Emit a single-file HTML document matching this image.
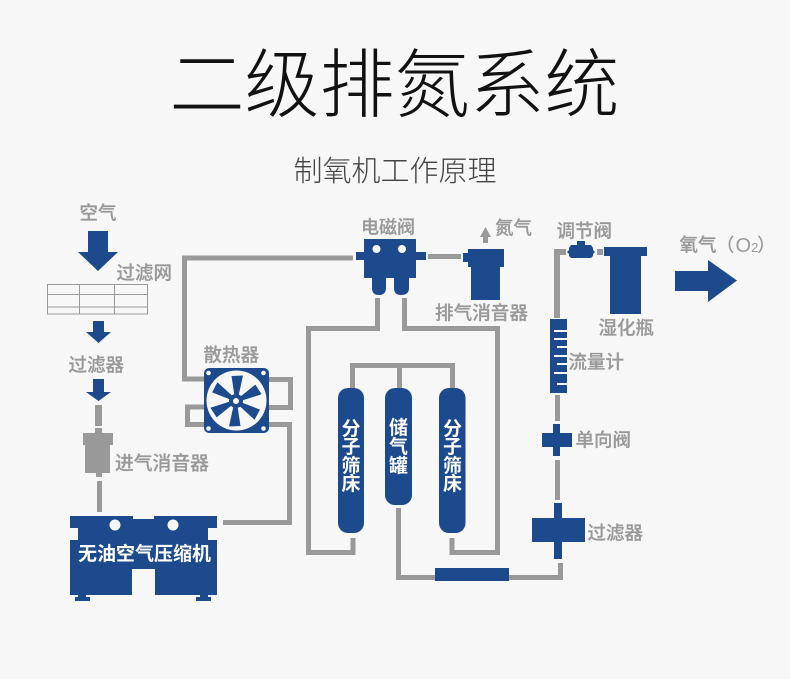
<!DOCTYPE html>
<html><head><meta charset="utf-8">
<style>
html,body{margin:0;padding:0;background:#f7f7f8}
svg{display:block}
text{font-family:"Liberation Sans","Noto Sans CJK SC",sans-serif}
.l{fill:#999;font-size:18.500px;font-weight:500;stroke:#999;stroke-width:.25}
.w{fill:#fff;font-size:19px;font-weight:bold}
.p{fill:none;stroke:#999;stroke-width:5}
.b{fill:#1c4a8c}
</style></head><body>
<svg width="790" height="679" viewBox="0 0 790 679" xmlns="http://www.w3.org/2000/svg">
<rect width="790" height="679" fill="#f7f7f8"/>
<text x="394.500" y="111" text-anchor="middle" font-size="75" font-weight="300" fill="#111">二级排氮系统</text>
<text x="395" y="181" text-anchor="middle" font-size="29" font-weight="300" fill="#444">制氧机工作原理</text>

<!-- pipes -->
<g class="p">
<polyline points="353,258 184.500,258 184.500,379 206,379"/>
<polyline points="268,379.500 290.500,379.500 290.500,407.500 268,407.500"/>
<polyline points="206,407 187.500,407 187.500,424.500 206,424.500"/>
<polyline points="268,424.500 289.500,424.500 289.500,522.500 223,522.500"/>
<polyline points="377.500,298 377.500,328.500 308.500,328.500 308.500,552.500 353,552.500 353,538"/>
<polyline points="404.500,298 404.500,328.500 497.500,328.500 497.500,552.500 452,552.500 452,538"/>
<polyline points="352.500,390 352.500,365.500 452.500,365.500 452.500,390"/>
<line x1="399.500" y1="365" x2="399.500" y2="390"/>
<polyline points="398.500,508 398.500,577.500 560.500,577.500 560.500,563"/>
<line x1="428" y1="256.500" x2="461" y2="256.500"/>
<line x1="557.500" y1="395" x2="557.500" y2="421"/>
<line x1="557.500" y1="460" x2="557.500" y2="500"/>
</g>
<path d="M554,249H566V255H560V318H554Z" fill="#999"/>
<rect x="597" y="249" width="6" height="6" fill="#999"/>

<!-- left arrows -->
<polygon class="b" points="88,231 108,231 108,252 118,252 98,271 78,252 88,252"/>
<polygon class="b" points="93,321 104,321 104,332 111,332 98.500,343 86,332 93,332"/>
<polygon class="b" points="93,379 104,379 104,392 111,392 98.500,401 86,392 93,392"/>

<!-- filter net -->
<g fill="none" stroke="#999" stroke-width="1">
<rect x="47.500" y="284.500" width="100" height="29.500"/>
<line x1="47" y1="294.500" x2="148" y2="294.500"/>
<line x1="47" y1="307" x2="148" y2="307"/>
<line x1="79.500" y1="284" x2="79.500" y2="314"/>
<line x1="114.500" y1="284" x2="114.500" y2="314"/>
</g>

<!-- inlet muffler -->
<g fill="#999">
<rect x="95" y="405" width="7" height="21"/>
<rect x="95" y="428" width="7" height="6"/>
<rect x="83" y="433" width="30" height="12"/>
<rect x="85" y="445" width="25" height="28"/>
<rect x="96" y="473" width="6" height="4"/>
<rect x="97" y="481" width="5" height="31"/>
</g>

<!-- compressor -->
<path class="b" d="M70,516H133V519H154V516H217V528H208V540H217V595H155V569H132V595H70V540H78V528H70Z"/>
<rect class="b" x="75" y="597" width="15" height="4"/><rect class="b" x="78" y="595" width="8" height="3"/>
<rect class="b" x="196" y="597" width="15" height="4"/><rect class="b" x="200" y="595" width="8" height="3"/>
<circle cx="115" cy="525" r="5.500" fill="#f7f7f8"/><circle cx="173" cy="525" r="5.500" fill="#f7f7f8"/>
<text class="w" x="78" y="560">无油空气压缩机</text>

<!-- fan -->
<rect class="b" x="204" y="368" width="65" height="65" rx="5"/>
<circle cx="236.500" cy="400.500" r="30" fill="#f7f7f8"/>
<g class="b" transform="translate(236,401)">
<path d="M-1.500,-5 L-4.500,-25 L7,-25.500 L2.500,-5Z"/>
<path transform="rotate(60)" d="M-1.500,-5 L-4.500,-25 L7,-25.500 L2.500,-5Z"/>
<path transform="rotate(120)" d="M-1.500,-5 L-4.500,-25 L7,-25.500 L2.500,-5Z"/>
<path transform="rotate(180)" d="M-1.500,-5 L-4.500,-25 L7,-25.500 L2.500,-5Z"/>
<path transform="rotate(240)" d="M-1.500,-5 L-4.500,-25 L7,-25.500 L2.500,-5Z"/>
<path transform="rotate(300)" d="M-1.500,-5 L-4.500,-25 L7,-25.500 L2.500,-5Z"/>
<circle r="7"/>
<circle r="3" fill="#f7f7f8"/>
</g>
<g fill="#f7f7f8"><circle cx="208.500" cy="373" r="2.300"/><circle cx="263.500" cy="373" r="2.300"/><circle cx="208.500" cy="428.500" r="2.300"/><circle cx="263.500" cy="428.500" r="2.300"/></g>

<!-- solenoid valve -->
<path class="b" d="M364,239H416V252H426V260H416V278H409V288Q409,295 401,295Q394,295 394,288V278H386V288Q386,295 379,295Q372,295 372,288V278H364V260H356V252H364Z"/>
<circle cx="376.500" cy="249" r="4" fill="#f7f7f8"/><circle cx="402" cy="249" r="4" fill="#f7f7f8"/>

<!-- exhaust muffler -->
<path class="b" d="M468,249H504V267H500V300H471V267H468V262H463V253H468Z"/>
<polygon fill="#999" points="485.500,227 491,237 488,237 488,243 483,243 483,237 480,237"/>

<!-- tanks -->
<rect class="b" x="338" y="388" width="26" height="145" rx="10"/>
<rect class="b" x="385" y="388" width="27" height="117" rx="10"/>
<rect class="b" x="439" y="388" width="26.500" height="145" rx="10"/>
<g class="w" text-anchor="middle">
<text x="351" y="435">分</text><text x="351" y="453">子</text><text x="351" y="472">筛</text><text x="351" y="490">床</text>
<text x="398.500" y="434">储</text><text x="398.500" y="453">气</text><text x="398.500" y="472">罐</text>
<text x="452.500" y="435">分</text><text x="452.500" y="453">子</text><text x="452.500" y="472">筛</text><text x="452.500" y="490">床</text>
</g>
<rect class="b" x="435" y="568" width="74" height="13"/>

<!-- right column -->
<rect class="b" x="553" y="424" width="7" height="32"/>
<rect class="b" x="542" y="433" width="30" height="14"/>
<rect class="b" x="554" y="503" width="8" height="56"/>
<rect class="b" x="532" y="518" width="53" height="24"/>
<rect class="b" x="550" y="319" width="17" height="74"/>
<g fill="#f7f7f8">
<rect x="554" y="330" width="13" height="2"/><rect x="554" y="338" width="13" height="2"/><rect x="557" y="346" width="10" height="2"/>
<rect x="554" y="355" width="13" height="2"/><rect x="557" y="363" width="10" height="2"/><rect x="554" y="372" width="13" height="2"/><rect x="557" y="383" width="10" height="2"/>
</g>
<path class="b" d="M577,241H585V245H591L593,248V250L595,252L593,254V256L591,258H571L569,256V254L567,252L569,250V248L571,245H577Z"/>
<path class="b" d="M604,247H647V256H641V314H610V256H604Z"/>
<polygon class="b" points="675,271 708,271 708,260 737,280.500 708,302 708,291 675,291"/>

<!-- labels -->
<text class="l" x="79.500" y="219.500">空气</text>
<text class="l" x="116.500" y="279.500">过滤网</text>
<text class="l" x="68.500" y="371.500">过滤器</text>
<text class="l" x="203.500" y="361.500">散热器</text>
<text class="l" x="115" y="469.500" style="font-size:18.800px">进气消音器</text>
<text class="l" x="361" y="233.500" style="font-size:18px">电磁阀</text>
<text class="l" x="495" y="234.500">氮气</text>
<text class="l" x="435" y="319.500" style="font-size:18.600px">排气消音器</text>
<text class="l" x="556.500" y="237.500">调节阀</text>
<text class="l" x="598.500" y="334.500">湿化瓶</text>
<text class="l" x="568.500" y="368.500">流量计</text>
<text class="l" x="575.500" y="446.500">单向阀</text>
<text class="l" x="587.500" y="539.500">过滤器</text>
<text class="l" x="679.500" y="251.500">氧气</text>
<text x="716" y="251.500" fill="#999" font-size="18.500" font-weight="500">（</text>
<text x="735.500" y="252" fill="#999" font-size="20" font-weight="500">O<tspan font-size="13">2</tspan></text>
<text x="757" y="251.500" fill="#999" font-size="18.500" font-weight="500">）</text>
</svg>
</body></html>
